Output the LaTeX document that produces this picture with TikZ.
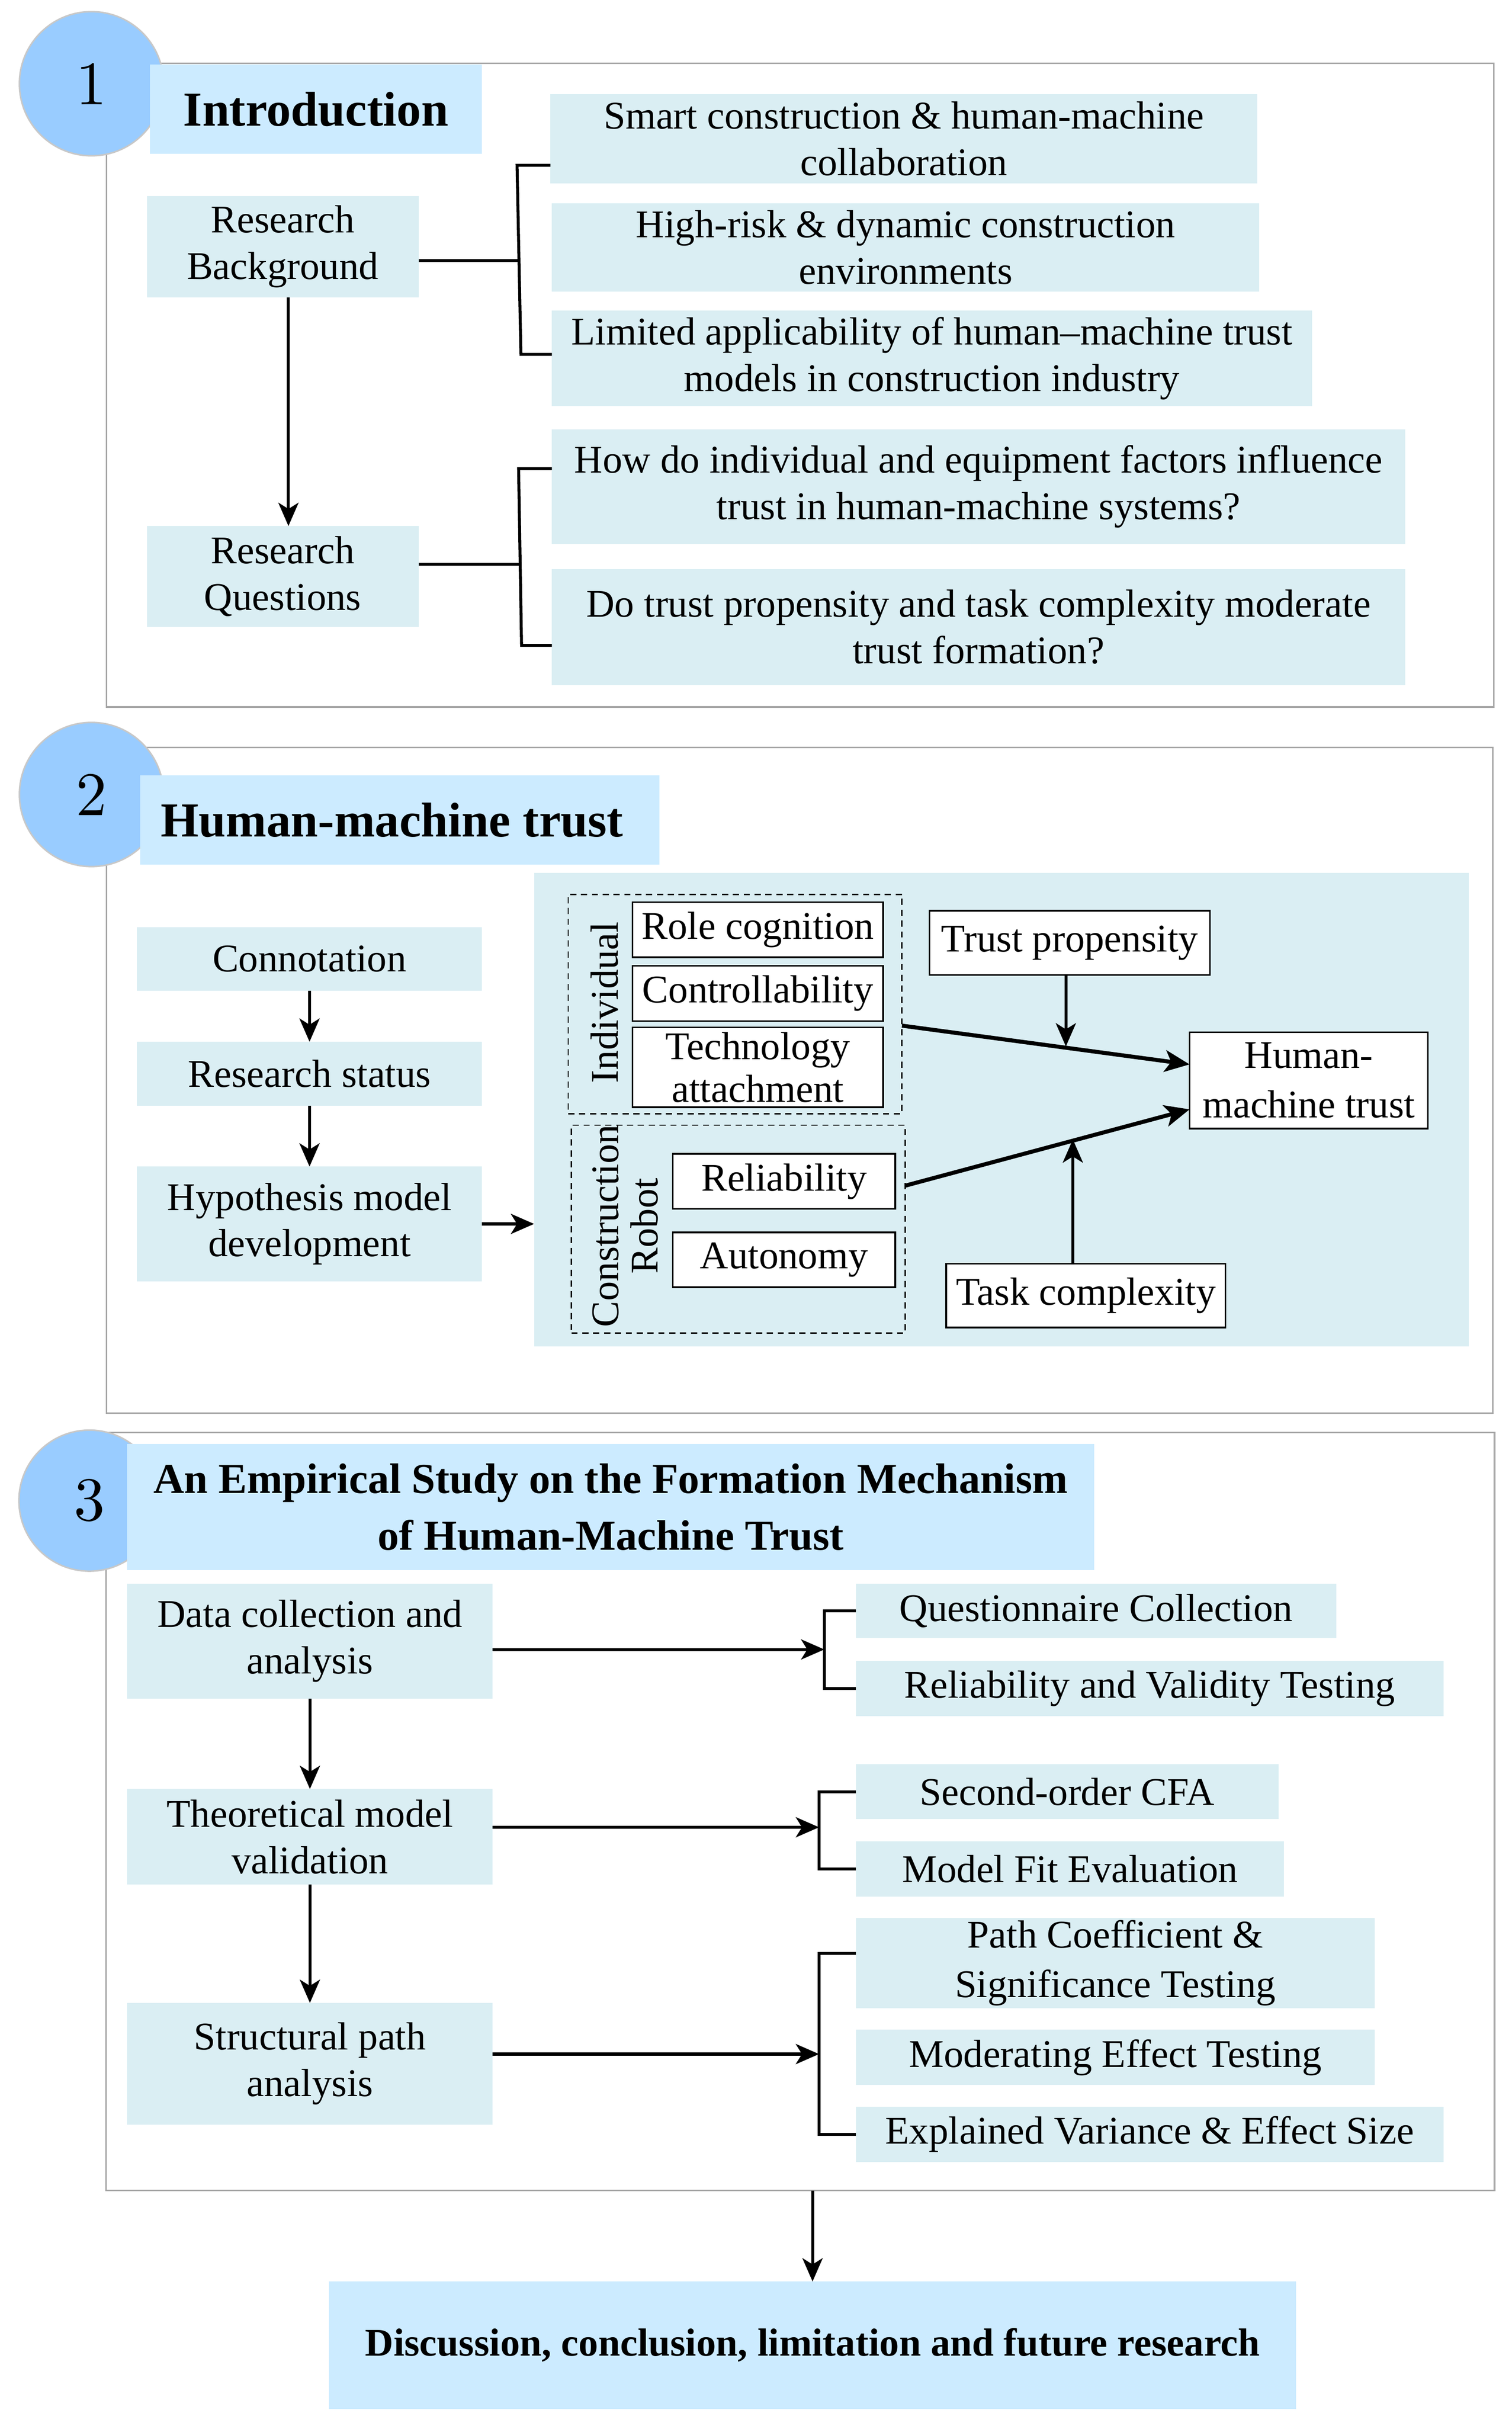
\documentclass[tikz,border=0pt]{standalone}
\usepackage{fontspec}
\setmainfont{Liberation Serif}
\newfontfamily\lmfont{lmroman10-regular.otf}
\usetikzlibrary{arrows.meta}

\definecolor{titlec}{HTML}{CCEBFF}
\definecolor{boxc}{HTML}{DAEEF3}
\definecolor{circc}{HTML}{99CCFF}
\definecolor{circline}{HTML}{C8C8C8}
\definecolor{framec}{HTML}{A6A6A6}

% name, x1, y1, x2, y2, style, text
\newcommand\mybox[7]{\node[#6, minimum width={#4pt-#2pt}, minimum height={#5pt-#3pt}] (#1) at ({(#2+#4)/2},{(#3+#5)/2}) {#7};}

\tikzset{
  basetext/.style={inner sep=0pt, outer sep=0pt, align=center, font=\fontsize{25.3}{30}\selectfont},
  bluebox/.style={basetext, fill=boxc},
  titlebox/.style={basetext, fill=titlec, font=\bfseries\fontsize{31.5}{36}\selectfont},
  whitebox/.style={basetext, fill=white, draw=black, line width=1.1pt},
  dashbox/.style={inner sep=0pt, outer sep=0pt, draw=black, dash pattern=on 4pt off 3pt, line width=0.9pt},
  sectframe/.style={inner sep=0pt, outer sep=0pt, draw=framec, line width=1pt},
  numcirc/.style={circle, fill=circc, draw=circline, line width=1pt, minimum size=93pt, inner sep=0pt, font=\lmfont\fontsize{40}{40}\selectfont},
  arr/.style={-{Stealth[length=15pt,width=13pt,inset=4pt]}, line width=1.9pt},
  ln/.style={line width=1.9pt},
  thickarr/.style={-{Stealth[length=16pt,width=14pt,inset=4pt]}, line width=2.6pt},
  rotlabel/.style={inner sep=0pt, outer sep=0pt, align=center, rotate=90, font=\fontsize{25.3}{25.3}\selectfont},
}

\begin{document}
\begin{tikzpicture}[x=1pt,y=-1pt]
\useasboundingbox (0,0) rectangle (975,1564.93);

% ---------------- Section 1 ----------------
\mybox{f1}{68.6}{40.9}{963.5}{456}{sectframe}{}
\node[numcirc] (c1) at (59,54) {1};
\mybox{t1}{96.6}{41.5}{310.9}{99.2}{titlebox}{Introduction}
\mybox{rb}{94.7}{126.4}{270}{191.9}{bluebox}{Research\\Background}
\mybox{rq}{94.7}{339.3}{270}{404.5}{bluebox}{Research\\Questions}
\mybox{s1}{355}{60.7}{811}{118.2}{bluebox}{Smart construction \& human-machine\\collaboration}
\mybox{s2}{356}{131.2}{812.3}{188}{bluebox}{High-risk \& dynamic construction\\environments}
\mybox{s3}{356}{200.2}{846.2}{262}{bluebox}{Limited applicability of human–machine trust\\models in construction industry}
\mybox{q1}{356}{276.9}{906.4}{351}{bluebox}{How do individual and equipment factors influence\\trust in human-machine systems?}
\mybox{q2}{356}{367.2}{906.4}{441.8}{bluebox}{Do trust propensity and task complexity moderate\\trust formation?}

\draw[arr] ([xshift=3.7pt]rb.south) -- ([xshift=3.7pt]rq.north);

\coordinate (b1t) at (333.5,106.6);
\coordinate (b1b) at (336,228.6);
\coordinate (b1m) at (334.5,168.2);
\draw[ln] (rb.east |- b1m) -- (b1m);
\draw[ln] (s1.west |- b1t) -- (b1t) -- (b1b) -- (s3.west |- b1b);

\coordinate (b2t) at (334.5,302.3);
\coordinate (b2b) at (336.4,416.3);
\coordinate (b2m) at (335.3,363.9);
\draw[ln] (rq.east |- b2m) -- (b2m);
\draw[ln] (q1.west |- b2t) -- (b2t) -- (b2b) -- (q2.west |- b2b);

% ---------------- Section 2 ----------------
\mybox{f2}{68.6}{482.2}{963}{911.5}{sectframe}{}
\node[numcirc] (c2) at (59,512.5) {2};
\mybox{t2}{90.3}{500}{425.4}{557.7}{titlebox}{\hspace*{-10pt}Human-machine trust}
\mybox{cn}{88.4}{598}{310.9}{639.1}{bluebox}{Connotation}
\mybox{rs}{88.4}{672}{310.9}{713.2}{bluebox}{Research status}
\mybox{hm}{88.4}{752.5}{310.9}{826.5}{bluebox}{Hypothesis model\\development}
\draw[arr] (cn.south) -- (rs.north);
\draw[arr] (rs.south) -- (hm.north);

\mybox{panel}{344.5}{563}{947.5}{868.5}{bluebox}{}
\draw[arr] (hm.east) -- (panel.west |- hm.east);

\mybox{ind}{366.5}{576.9}{581.8}{718.5}{dashbox}{}
\mybox{rc}{408}{582}{569.6}{617.5}{whitebox}{Role cognition}
\mybox{ct}{408}{623}{569.6}{658.7}{whitebox}{Controllability}
\mybox{ta}{408}{662.7}{569.6}{714.2}{whitebox, font=\fontsize{25.3}{27.7}\selectfont}{Technology\\attachment}
\node[rotlabel] (indl) at (390,646.6) {Individual};

\mybox{cr}{368.6}{725.8}{584}{859.8}{dashbox}{}
\mybox{rl}{433.9}{744.3}{577.5}{779.8}{whitebox}{Reliability}
\mybox{au}{433.9}{795}{577.5}{830.4}{whitebox}{Autonomy}
\node[rotlabel] (crl) at (403.3,790.8) {Construction\\Robot};

\mybox{tp}{599.5}{587.5}{780.4}{629}{whitebox}{Trust propensity}
\mybox{hmt}{767.3}{665.9}{921}{728}{whitebox, font=\fontsize{25.3}{32}\selectfont}{Human-\\machine trust}
\mybox{tc}{610.3}{815.2}{790.5}{856.4}{whitebox}{Task complexity}

\coordinate (d1s) at (582,661.6);
\coordinate (d1e) at (767.3,686.6);
\coordinate (d2s) at (584,764.8);
\coordinate (d2e) at (767.3,715.6);
\draw[thickarr] (ind.east |- d1s) -- (hmt.west |- d1e);
\draw[thickarr] (cr.east |- d2s) -- (hmt.west |- d2e);
\coordinate (m1) at (687.5,675);
\coordinate (m2) at (692,735);
\draw[arr] (tp.south -| m1) -- (m1);
\draw[arr] (tc.north -| m2) -- (m2);

% ---------------- Section 3 ----------------
\mybox{f3}{68.4}{924}{964}{1413}{sectframe}{}
\node[numcirc, minimum size=91pt] (c3) at (57.7,968) {3};
\mybox{t3}{82}{931.5}{705.8}{1012.8}{titlebox, font=\bfseries\fontsize{27.5}{36.6}\selectfont}{An Empirical Study on the Formation Mechanism\\of Human-Machine Trust}
\mybox{dca}{82}{1021.5}{317.8}{1095.7}{bluebox}{Data collection and\\analysis}
\mybox{tmv}{82}{1154}{317.8}{1215.6}{bluebox}{Theoretical model\\validation}
\mybox{spa}{82}{1292}{317.8}{1370.6}{bluebox}{Structural path\\analysis}
\mybox{qc}{552}{1021.5}{862}{1056.7}{bluebox}{Questionnaire Collection}
\mybox{rvt}{552}{1071.4}{931}{1107}{bluebox}{Reliability and Validity Testing}
\mybox{soc}{552}{1138}{824.6}{1173.4}{bluebox}{Second-order CFA}
\mybox{mfe}{552}{1187.7}{828.3}{1223.3}{bluebox}{Model Fit Evaluation}
\mybox{pcs}{552}{1237.3}{886.8}{1295.3}{bluebox, font=\fontsize{25.3}{32}\selectfont}{Path Coefficient \&\\Significance Testing}
\mybox{met}{552}{1309.3}{886.8}{1345}{bluebox}{Moderating Effect Testing}
\mybox{eve}{552}{1359}{931}{1394.5}{bluebox}{Explained Variance \& Effect Size}

\draw[arr] (dca.south) -- (tmv.north);
\draw[arr] (tmv.south) -- (spa.north);

\coordinate (j1) at (531.7,1064);
\draw[arr] (dca.east |- j1) -- (j1);
\draw[ln] (qc.west) -| (j1) |- (rvt.west);

\coordinate (j2) at (528.3,1178.7);
\draw[arr] (tmv.east |- j2) -- (j2);
\draw[ln] (soc.west) -| (j2) |- (mfe.west);

\coordinate (j3) at (528.3,1325);
\coordinate (j3t) at (528.3,1260);
\draw[arr] (spa.east |- j3) -- (j3);
\draw[ln] (pcs.west |- j3t) -- (j3t) -- (j3) |- (eve.west);

% ---------------- Final box ----------------
\mybox{fb}{212.3}{1471.7}{835.9}{1553.9}{titlebox, font=\bfseries\fontsize{25.3}{30}\selectfont}{Discussion, conclusion, limitation and future research}
\draw[arr] (fb.north |- f3.south) -- (fb.north);

\end{tikzpicture}
\end{document}
